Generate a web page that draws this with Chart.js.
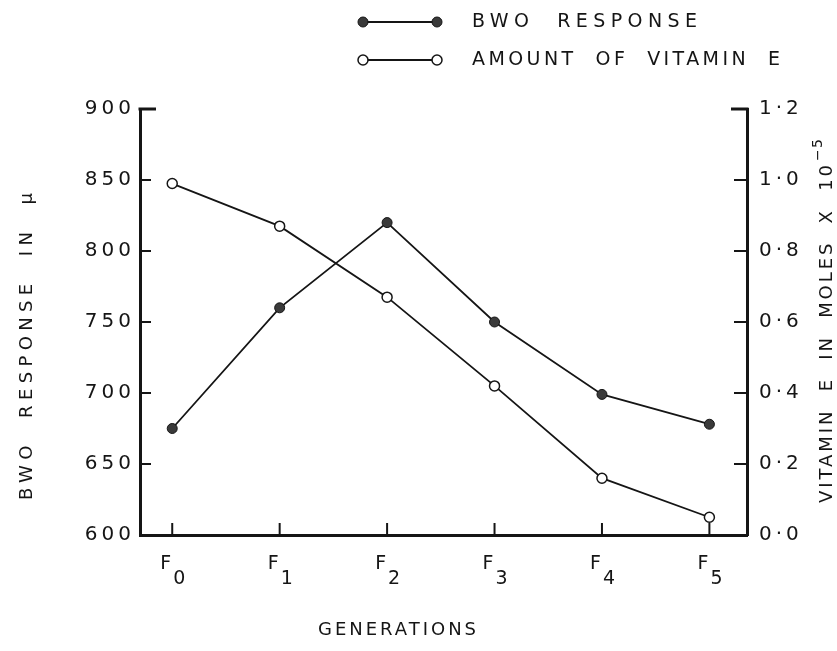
<!DOCTYPE html>
<html>
<head>
<meta charset="utf-8">
<script src="https://cdn.jsdelivr.net/npm/chart.js@4.4.0/dist/chart.umd.min.js"></script>
<style>
  html, body { margin: 0; padding: 0; background: #fff; }
</style>
</head>
<body>
<canvas id="chart" width="837" height="651"></canvas>
<script>
// Generaciones (F0..F5) y valores
const generations = ['F0', 'F1', 'F2', 'F3', 'F4', 'F5'];
const bwoResponse = [675, 760, 820, 750, 699, 678];
const vitaminE = [0.99, 0.87, 0.67, 0.42, 0.16, 0.05];
const bwoTicks = [600, 650, 700, 750, 800, 850, 900];
const vitTicks = [0, 0.2, 0.4, 0.6, 0.8, 1.0, 1.2];

const INK = '#151515';
const FONT = '"DejaVu Sans", sans-serif';

// texto con espaciado de letras ajustado a un ancho dado
function spacedText(ctx, text, x, y, width) {
  ctx.letterSpacing = '0px';
  const natural = ctx.measureText(text).width;
  const sp = (width - natural) / (text.length - 1);
  ctx.letterSpacing = sp + 'px';
  ctx.textAlign = 'left';
  ctx.fillText(text, x, y);
  ctx.letterSpacing = '0px';
}

const decor = {
  id: 'decor',
  beforeDraw(chart) {
    chart.ctx.letterSpacing = '4px';
  },
  afterDraw(chart) {
    const { ctx, chartArea: a, scales: { x, y, y1 } } = chart;
    ctx.save();
    ctx.letterSpacing = '0px';
    ctx.strokeStyle = INK;
    ctx.fillStyle = INK;

    const line = (x1, y1_, x2, y2, w) => {
      ctx.lineWidth = w;
      ctx.beginPath(); ctx.moveTo(x1, y1_); ctx.lineTo(x2, y2); ctx.stroke();
    };

    // marcas hacia dentro
    y.ticks.forEach(t => {
      if (t.value === y.min) return;
      const py = y.getPixelForValue(t.value);
      if (t.value === y.max) line(a.left - 1.5, py, a.left + 16, py, 3);
      else line(a.left, py, a.left + 11, py, 2);
    });
    y1.ticks.forEach(t => {
      if (t.value === y1.min) return;
      const py = y1.getPixelForValue(t.value);
      if (t.value === y1.max) line(a.right + 1.5, py, a.right - 16, py, 3);
      else line(a.right, py, a.right - 13, py, 2);
    });
    generations.forEach((g, i) => {
      const px = x.getPixelForValue(i);
      line(px, a.bottom, px, a.bottom - 12, 2);
      // etiqueta F con subíndice
      ctx.font = '19px ' + FONT;
      ctx.textBaseline = 'alphabetic';
      ctx.textAlign = 'right';
      ctx.fillText(g.charAt(0), px - 1, a.bottom + 34);
      ctx.textAlign = 'left';
      ctx.fillText(g.slice(1), px + 1, a.bottom + 49);
    });

    // títulos de ejes
    ctx.textBaseline = 'middle';
    ctx.font = '18px ' + FONT;
    spacedText(ctx, 'GENERATIONS', 318, 630, 158);

    ctx.save();
    ctx.translate(27, 347);
    ctx.rotate(-Math.PI / 2);
    spacedText(ctx, 'BWO  RESPONSE  IN  \u03bc', -153, 0, 307);
    ctx.restore();

    ctx.save();
    ctx.translate(827, 320);
    ctx.rotate(-Math.PI / 2);
    spacedText(ctx, 'VITAMIN  E  IN  MOLES  X  10', -183, 0, 338);
    ctx.font = '14px ' + FONT;
    spacedText(ctx, '\u22125', -183 + 342, -9, 22);
    ctx.restore();

    // leyenda
    ctx.font = '19px ' + FONT;
    const rows = [
      { ds: chart.data.datasets[0], y: 22, w: 225 },
      { ds: chart.data.datasets[1], y: 60, w: 308 }
    ];
    rows.forEach(r => {
      line(363, r.y, 437, r.y, 1.8);
      [363, 437].forEach(px => {
        ctx.beginPath();
        ctx.arc(px, r.y, r.ds.pointRadius, 0, Math.PI * 2);
        ctx.fillStyle = r.ds.pointBackgroundColor;
        ctx.fill();
        ctx.lineWidth = r.ds.pointBorderWidth;
        ctx.strokeStyle = r.ds.pointBorderColor;
        ctx.stroke();
      });
      ctx.fillStyle = INK;
      ctx.strokeStyle = INK;
      spacedText(ctx, r.ds.label, 472, r.y, r.w);
    });
    ctx.restore();
  }
};

new Chart(document.getElementById('chart'), {
  type: 'line',
  data: {
    datasets: [{
      label: 'BWO  RESPONSE',
      data: bwoResponse.map((v, i) => ({ x: i, y: v })),
      yAxisID: 'y',
      borderColor: INK,
      borderWidth: 1.8,
      pointRadius: 5,
      pointBackgroundColor: '#3a3a3a',
      pointBorderColor: INK,
      pointBorderWidth: 1,
      tension: 0
    }, {
      label: 'AMOUNT  OF  VITAMIN  E',
      data: vitaminE.map((v, i) => ({ x: i, y: v })),
      yAxisID: 'y1',
      borderColor: INK,
      borderWidth: 1.8,
      pointRadius: 5,
      pointBackgroundColor: '#ffffff',
      pointBorderColor: INK,
      pointBorderWidth: 1.5,
      tension: 0
    }]
  },
  options: {
    responsive: false,
    animation: false,
    layout: { padding: { top: 109, left: 0, right: 0, bottom: 0 } },
    plugins: { legend: { display: false }, tooltip: { enabled: false } },
    scales: {
      x: {
        type: 'linear',
        min: -0.3,
        max: 5.35,
        ticks: { display: false },
        grid: { display: false, drawTicks: false },
        border: { color: INK, width: 3 },
        afterFit: s => { s.height = 116; }
      },
      y: {
        position: 'left',
        min: 600,
        max: 900,
        afterBuildTicks: s => { s.ticks = bwoTicks.map(v => ({ value: v })); },
        ticks: { color: INK, font: { family: FONT, size: 20 }, padding: 5 },
        grid: { display: false, drawTicks: false },
        border: { color: INK, width: 3 },
        afterFit: s => { s.width = 140; }
      },
      y1: {
        position: 'right',
        min: 0,
        max: 1.2,
        afterBuildTicks: s => { s.ticks = vitTicks.map(v => ({ value: v })); },
        ticks: {
          color: INK,
          font: { family: FONT, size: 20 },
          padding: 12,
          callback: v => v.toFixed(1).replace('.', '\u00b7')
        },
        grid: { display: false, drawTicks: false },
        border: { color: INK, width: 3 },
        afterFit: s => { s.width = 90; }
      }
    }
  },
  plugins: [decor]
});
</script>
</body>
</html>
